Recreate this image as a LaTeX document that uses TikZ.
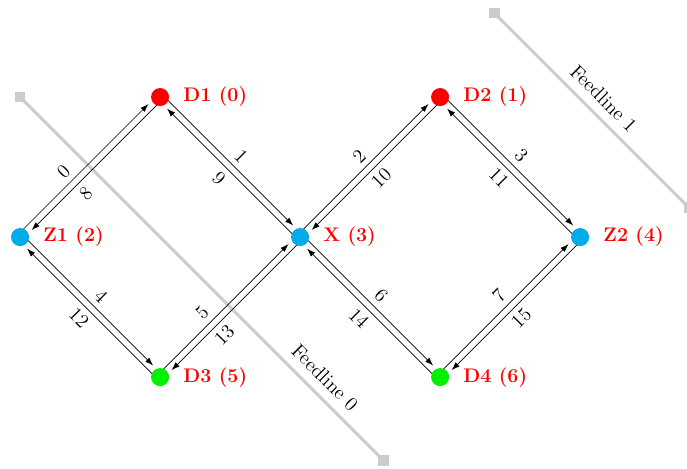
\documentclass[tikz,border=0pt]{standalone}
\usepackage{tikz}
\usetikzlibrary{arrows.meta,calc}

\definecolor{qcyan}{RGB}{0,171,234}
\definecolor{qgreen}{RGB}{0,240,0}
\definecolor{fgray}{RGB}{204,204,204}

\begin{document}
\begin{tikzpicture}[>={Latex[length=5pt,width=3.5pt]}, font=\large,
    qubit/.style={circle, inner sep=0pt, minimum size=11pt,
        label={[text=red, font=\large\bfseries, label distance=5pt]right:#1}},
    cpl/.style={->, shorten <=5pt, shorten >=8pt},
    fwdlabel/.style={sloped, above},
    revlabel/.style={sloped, below},
    feed/.style={draw=fgray, line width=1.8pt},
    flend/.style={rectangle, fill=fgray, inner sep=0pt, minimum size=6.5pt}]

\useasboundingbox (-0.43,-4.95) rectangle (14.29,5.08);

% Feedlines
\node[flend] (F0a) at (0,3) {};
\node[flend] (F0b) at (7.78,-4.78) {};
\draw[feed] (F0a.center) -- node[sloped, above=2pt, pos=0.806] (fl0) {Feedline 0} (F0b.center);

\node[flend] (F1a) at (10.16,4.8) {};
\node[flend] (F1b) at (14.33,0.63) {};
\draw[feed] (F1a.center) -- node[sloped, above=2pt, pos=0.5] (fl1) {Feedline 1} (F1b.center);

% Qubits
\node[qubit={Z1 (2)}, fill=qcyan] (Z1) at (0,0) {};
\node[qubit={D1 (0)}, fill=red] (D1) at (3,3) {};
\node[qubit={X (3)}, fill=qcyan] (X) at (6,0) {};
\node[qubit={D2 (1)}, fill=red] (D2) at (9,3) {};
\node[qubit={Z2 (4)}, fill=qcyan] (Z2) at (12,0) {};
\node[qubit={D3 (5)}, fill=qgreen] (D3) at (3,-3) {};
\node[qubit={D4 (6)}, fill=qgreen] (D4) at (9,-3) {};

% Couplings: forward edge and reverse edge (labels moved off the feedline)
\foreach \a/\b/\f/\r/\p/\q in {Z1/D1/0/8/0.39/0.61, D1/X/1/9/0.5/0.5,
                               X/D2/2/10/0.5/0.5, D2/Z2/3/11/0.5/0.5,
                               Z1/D3/4/12/0.5/0.5, D3/X/5/13/0.38/0.62,
                               X/D4/6/14/0.5/0.5, D4/Z2/7/15/0.5/0.5} {
    \draw[cpl] ($(\a)!2pt!90:(\b)$) -- node[fwdlabel, pos=\p] {\f} ($(\b)!2pt!-90:(\a)$);
    \draw[cpl] ($(\b)!2pt!90:(\a)$) -- node[revlabel, pos=\q] {\r} ($(\a)!2pt!-90:(\b)$);
}

\end{tikzpicture}
\end{document}
